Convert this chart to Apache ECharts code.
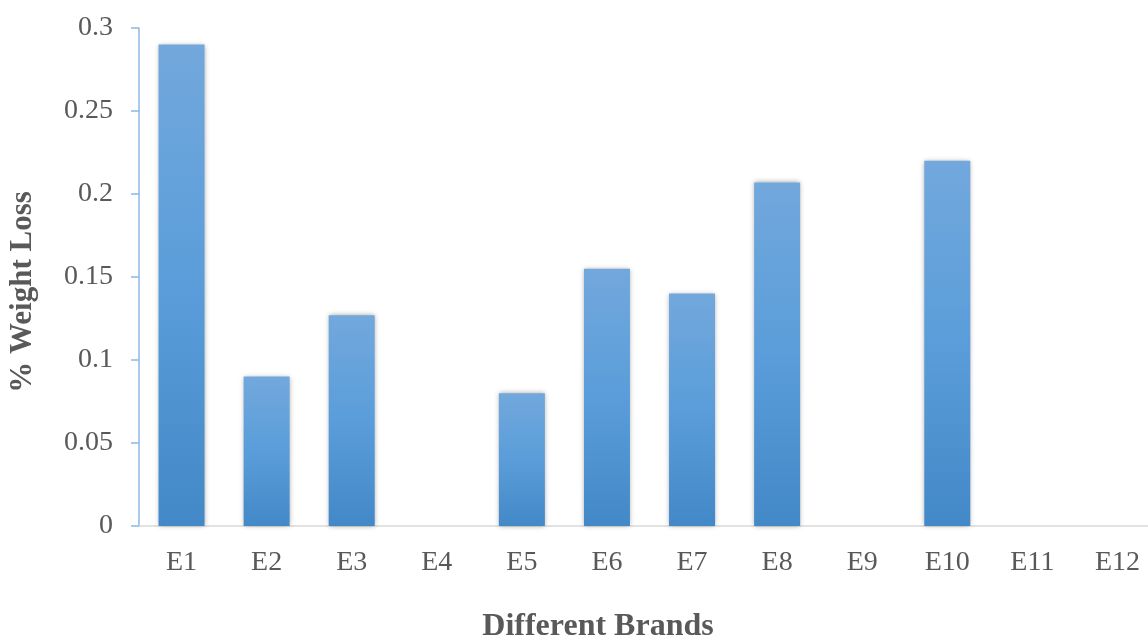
<!DOCTYPE html>
<html>
<head>
<meta charset="utf-8">
<script src="https://cdn.jsdelivr.net/npm/echarts@6/dist/echarts.min.js"></script>
<style>
  html, body { margin: 0; padding: 0; background: #fff; overflow: hidden; }
  /* the plot runs a little past the right edge of the window */
  #chart { width: 1160px; height: 639px; }
</style>
</head>
<body>
<div id="chart"></div>
<script>
// Brands along the x axis
const brands = ['E1', 'E2', 'E3', 'E4', 'E5', 'E6', 'E7', 'E8', 'E9', 'E10', 'E11', 'E12'];
// Percentage weight loss for each brand
const weightLoss = [0.29, 0.09, 0.127, 0, 0.08, 0.155, 0.14, 0.207, 0, 0.22, 0, 0];
// Value axis range
const yMin = 0;
const yMax = 0.3;
const yStep = 0.05;

const serif = '"Liberation Serif", "Times New Roman", serif';
const chart = echarts.init(document.getElementById('chart'));

chart.setOption({
  backgroundColor: '#ffffff',
  animation: false,
  grid: { left: 139, right: 0, top: 28, bottom: 113, containLabel: false },
  xAxis: {
    type: 'category',
    data: brands,
    axisLine: { show: true, lineStyle: { color: '#d9d9d9', width: 1.5 } },
    axisTick: { show: false },
    axisLabel: { color: '#595959', fontFamily: serif, fontSize: 28, margin: 23 }
  },
  yAxis: {
    type: 'value',
    min: yMin,
    max: yMax,
    interval: yStep,
    axisLine: { show: true, lineStyle: { color: '#8db8e4', width: 1.5 } },
    axisTick: { show: true, length: 8, lineStyle: { color: '#8db8e4', width: 1.5 } },
    splitLine: { show: false },
    axisLabel: {
      color: '#595959', fontFamily: serif, fontSize: 28, margin: 26,
      formatter: v => String(+v.toFixed(2))
    }
  },
  graphic: [
    {
      type: 'text',
      x: 23, y: 292, rotation: Math.PI / 2,
      style: {
        text: '% Weight Loss', fill: '#595959', font: 'bold 31px ' + serif,
        align: 'center', verticalAlign: 'middle'
      }
    },
    {
      type: 'text',
      x: 598, y: 627,
      style: {
        text: 'Different Brands', fill: '#595959', font: 'bold 32px ' + serif,
        align: 'center', verticalAlign: 'middle'
      }
    }
  ],
  series: [{
    type: 'bar',
    data: weightLoss,
    barWidth: 46,
    itemStyle: {
      color: new echarts.graphic.LinearGradient(0, 0, 0, 1, [
        { offset: 0, color: '#72a8dc' },
        { offset: 0.5, color: '#5a9dda' },
        { offset: 1, color: '#4388c7' }
      ]),
      shadowColor: 'rgba(0,0,0,0.35)',
      shadowBlur: 5,
      shadowOffsetX: 0,
      shadowOffsetY: 0
    }
  }]
});
</script>
</body>
</html>
